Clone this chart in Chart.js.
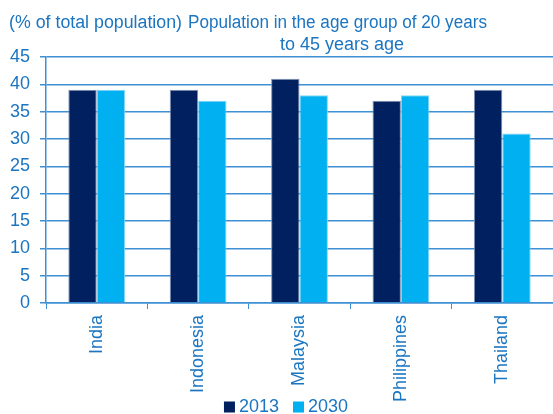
<!DOCTYPE html>
<html>
<head>
<meta charset="utf-8">
<script src="https://cdn.jsdelivr.net/npm/chart.js@4/dist/chart.umd.min.js"></script>
<style>
  html, body { margin: 0; padding: 0; background: #fff; }
  #wrap { width: 553px; height: 414px; }
</style>
</head>
<body>
<div id="wrap"><canvas id="chart" width="553" height="414"></canvas></div>
<script>
// data
const countries = ['India', 'Indonesia', 'Malaysia', 'Philippines', 'Thailand'];
const series2013 = [39, 39, 41, 37, 39];
const series2030 = [39, 37, 38, 38, 31];
const seriesNames = ['2013', '2030'];
const yTicks = [0, 5, 10, 15, 20, 25, 30, 35, 40, 45];

const TEXT = '#1b75c0';
const GRID = '#3f8fd4';
const FONT = 'Arial, "Liberation Sans", sans-serif';

// title text drawn above the plot
const titleText = {
  id: 'titleText',
  afterDraw(chart) {
    const ctx = chart.ctx;
    ctx.save();
    ctx.fillStyle = TEXT;
    ctx.font = `18px ${FONT}`;
    ctx.textBaseline = 'middle';
    ctx.textAlign = 'left';
    ctx.fillText('(% of total population)', 9, 23, 173);
    ctx.fillText('Population in the age group of 20 years', 188, 23, 299);
    ctx.textAlign = 'center';
    ctx.fillText('to 45 years age', 342, 45);
    ctx.restore();
  }
};

// legend drawn by hand so it can sit level with the rotated labels
const bottomLegend = {
  id: 'bottomLegend',
  afterDraw(chart) {
    const ctx = chart.ctx;
    const y = 407;
    const box = 11;
    const gap = 4;
    const spacing = 14;
    ctx.save();
    ctx.font = `18px ${FONT}`;
    ctx.textBaseline = 'middle';
    ctx.textAlign = 'left';
    const items = chart.data.datasets.map(ds => ({ text: ds.label, color: ds.backgroundColor, w: ctx.measureText(ds.label).width }));
    const total = items.reduce((s, it) => s + box + gap + it.w, 0) + spacing * (items.length - 1);
    let x = 286 - total / 2;
    items.forEach(it => {
      ctx.fillStyle = it.color;
      ctx.fillRect(x, y - box / 2, box, box);
      x += box + gap;
      ctx.fillStyle = TEXT;
      ctx.fillText(it.text, x, y);
      x += it.w + spacing;
    });
    ctx.restore();
  }
};

new Chart(document.getElementById('chart'), {
  type: 'bar',
  data: {
    labels: countries,
    datasets: [
      { label: seriesNames[0], data: series2013, backgroundColor: '#002060', borderColor: '#7f8fb0', borderWidth: 1 },
      { label: seriesNames[1], data: series2030, backgroundColor: '#00b0f0', borderColor: '#7fd6f6', borderWidth: 1 }
    ]
  },
  options: {
    responsive: false,
    animation: false,
    layout: { padding: { top: 57, right: 0, left: 0, bottom: 0 } },
    datasets: { bar: { categoryPercentage: 0.56, barPercentage: 1.0 } },
    plugins: {
      title: { display: false },
      tooltip: { enabled: false },
      legend: { display: false }
    },
    scales: {
      x: {
        afterFit(scale) { scale.height = 111; },
        grid: { offset: true, drawOnChartArea: false, color: GRID, tickLength: 6 },
        border: { color: GRID, width: 1.5 },
        ticks: {
          color: TEXT,
          font: { family: FONT, size: 18 },
          minRotation: 90,
          maxRotation: 90,
          padding: 6
        }
      },
      y: {
        min: 0,
        max: 45,
        afterBuildTicks(scale) { scale.ticks = yTicks.map(v => ({ value: v })); },
        grid: { color: GRID, lineWidth: 1.5, tickLength: 6 },
        border: { color: GRID, width: 1.5 },
        ticks: {
          color: TEXT,
          font: { family: FONT, size: 18 },
          padding: 10
        }
      }
    }
  },
  plugins: [titleText, bottomLegend]
});
</script>
</body>
</html>
